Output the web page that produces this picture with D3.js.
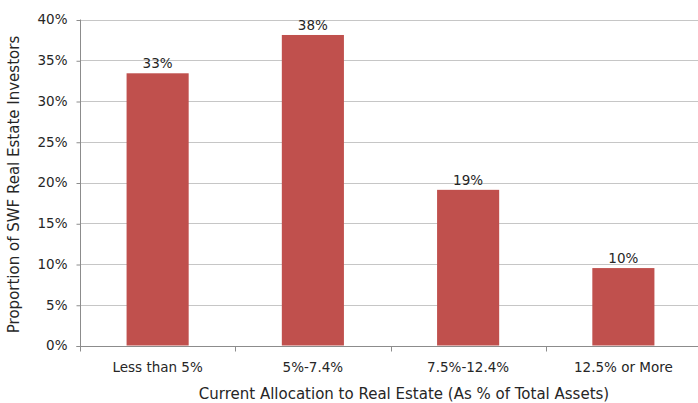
<!DOCTYPE html>
<html><head><meta charset="utf-8">
<script src="https://cdn.jsdelivr.net/npm/d3@7"></script>
<style>body{margin:0;background:#fff}svg{display:block}text{font-family:"DejaVu Sans",sans-serif;fill:#262626}</style>
</head><body>
<svg id="c" width="698" height="403"></svg>
<script>
const categories = ["Less than 5%", "5%-7.4%", "7.5%-12.4%", "12.5% or More"];
const values = [33.4, 38.1, 19.1, 9.5];
const labels = ["33%", "38%", "19%", "10%"];
const yTicks = [0, 5, 10, 15, 20, 25, 30, 35, 40];

const svg = d3.select("#c");
const m = {l: 80, r: -3, t: 19.5, b: 57.5};
const W = 698, H = 403;
const x = d3.scaleBand().domain(categories).range([m.l, W - m.r]).paddingInner(0.6).paddingOuter(0.3);
const y = d3.scaleLinear().domain([0, 40]).range([H - m.b, m.t]);

// gridlines
svg.append("g").selectAll("line").data(yTicks.filter(d => d > 0)).join("line")
  .attr("x1", m.l).attr("x2", W).attr("y1", d => Math.round(y(d)) + 0.5).attr("y2", d => Math.round(y(d)) + 0.5)
  .attr("stroke", "#c6c6c6").attr("stroke-width", 1);

// bars
svg.append("g").selectAll("rect").data(values).join("rect")
  .attr("x", (d, i) => x(categories[i])).attr("width", x.bandwidth())
  .attr("y", d => y(d)).attr("height", d => y(0) - y(d))
  .attr("fill", "#c0504d");

// labels
svg.append("g").selectAll("text").data(values).join("text")
  .attr("x", (d, i) => x(categories[i]) + x.bandwidth() / 2).attr("y", d => y(d) - 5)
  .attr("text-anchor", "middle").attr("font-size", 13.5).text((d, i) => labels[i]);

// y axis
const ya = svg.append("g").attr("transform", `translate(${m.l + 0.5},0)`)
  .call(d3.axisLeft(y).tickValues(yTicks).tickFormat(d => d + "%").tickSize(4).tickPadding(9));
ya.select(".domain").attr("stroke", "#8c8c8c").attr("d", `M-4,${Math.round(y(0))+0.5}H0V${m.t}`);
ya.selectAll(".tick line").attr("stroke", "#8c8c8c").attr("transform", "translate(0,0.5)");
ya.selectAll(".tick text").attr("font-size", 13.5).attr("font-family", "DejaVu Sans").attr("fill", "#262626");

// x axis
const y0 = Math.round(y(0)) + 0.5;
svg.append("line").attr("x1", m.l).attr("x2", W).attr("y1", y0).attr("y2", y0).attr("stroke", "#8c8c8c");
const step = x.step();
const bounds = d3.range(categories.length + 1).map(i => x.range()[0] + i * step);
svg.append("g").selectAll("line").data(bounds).join("line")
  .attr("x1", d => Math.round(d) + 0.5).attr("x2", d => Math.round(d) + 0.5)
  .attr("y1", y0).attr("y2", y0 + 5).attr("stroke", "#8c8c8c");
svg.append("g").selectAll("text").data(categories).join("text")
  .attr("x", d => x(d) + x.bandwidth() / 2).attr("y", y0 + 25)
  .attr("text-anchor", "middle").attr("font-size", 13.5).text(d => d);

// axis titles
svg.append("text").attr("x", 404).attr("y", 399).attr("text-anchor", "middle")
  .attr("font-size", 15).text("Current Allocation to Real Estate (As % of Total Assets)");
svg.append("text").attr("transform", `translate(19,${(m.t + y(0)) / 2 + 2}) rotate(-90)`)
  .attr("text-anchor", "middle").attr("font-size", 15).text("Proportion of SWF Real Estate Investors");
</script>
</body></html>
